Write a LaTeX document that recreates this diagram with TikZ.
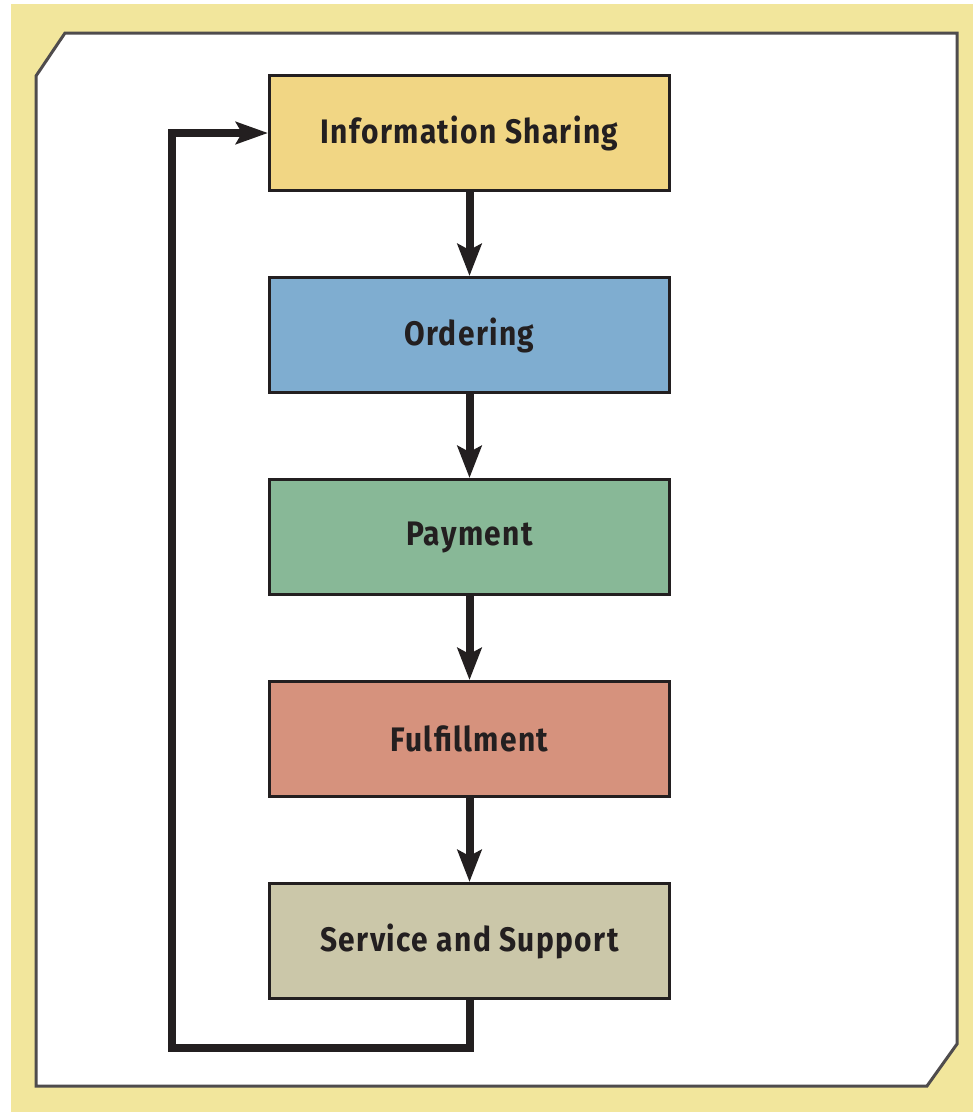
\documentclass[tikz,border=0pt]{standalone}
\usepackage{fontspec}
\setmainfont[FakeStretch=0.88,LetterSpace=4]{Fira Sans}
\usetikzlibrary{arrows.meta}
\definecolor{bgyellow}{HTML}{F2E69C}
\definecolor{inkc}{HTML}{231F20}
\definecolor{infoc}{HTML}{F1D684}
\definecolor{orderc}{HTML}{7FADD0}
\definecolor{payc}{HTML}{88B897}
\definecolor{fulfc}{HTML}{D6927D}
\definecolor{servc}{HTML}{CBC7A9}
\tikzset{
  stagebox/.style={draw=inkc, line width=3pt, minimum width=400pt, minimum height=115pt,
    inner sep=0pt, text=inkc, font=\fontsize{34}{40}\selectfont\bfseries},
  flow/.style={draw=inkc, line width=8pt, -{Stealth[length=32pt,width=24pt,inset=6pt]}},
  loopline/.style={draw=inkc, line width=8pt, line join=miter, -{Stealth[length=32pt,width=22pt,inset=6pt]}}
}
\begin{document}
\begin{tikzpicture}[x=1pt,y=-1pt]
\useasboundingbox (0,0) rectangle (973,1112);
\fill[white] (0,0) rectangle (973,1112);
\fill[bgyellow] (11,4) rectangle (973,1112);
\filldraw[fill=white, draw=inkc!80, line width=3pt]
  (36,76) -- (65,33) -- (957,33) -- (957,1044) -- (927,1086) -- (36,1086) -- cycle;
\node[stagebox, fill=infoc] (info) at (469.5,133) {Information Sharing};
\node[stagebox, fill=orderc] (order) at (469.5,335) {Ordering};
\node[stagebox, fill=payc] (pay) at (469.5,537) {Payment};
\node[stagebox, fill=fulfc] (fulf) at (469.5,739) {Fulfillment};
\node[stagebox, fill=servc] (serv) at (469.5,941) {Service and Support};
\coordinate (lowleft) at (172,1048);
\draw[flow] (info.south) -- (order.north);
\draw[flow] (order.south) -- (pay.north);
\draw[flow] (pay.south) -- (fulf.north);
\draw[flow] (fulf.south) -- (serv.north);
\draw[loopline] (serv.south) -- (serv.south |- lowleft) -- (lowleft) -- (lowleft |- info.west) -- (info.west);
\end{tikzpicture}
\end{document}
